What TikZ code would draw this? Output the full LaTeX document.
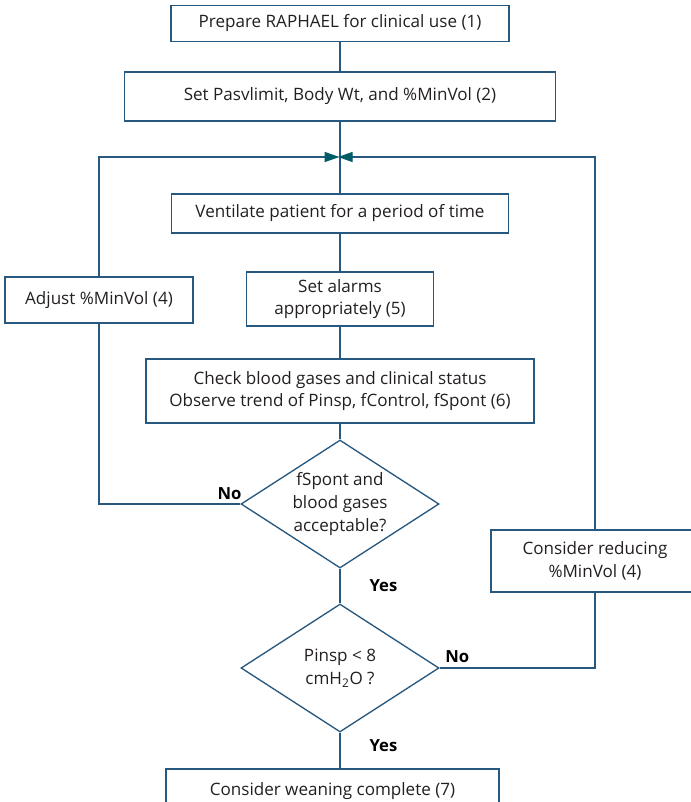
\documentclass[tikz,border=0pt]{standalone}
\usepackage{fontspec}
\setmainfont{Open Sans}
\usetikzlibrary{shapes.geometric,arrows.meta}
\definecolor{flowline}{RGB}{38,88,128}
\definecolor{flowtip}{RGB}{0,92,102}
\definecolor{flowtext}{RGB}{35,31,32}

\begin{document}
\begin{tikzpicture}[x=0.75pt,y=-0.75pt,
    box/.style={draw=flowline, line width=1pt, align=center, inner sep=0pt,
        text=flowtext, font=\fontsize{12.8}{17}\selectfont},
    test/.style={box, shape=diamond, shape aspect=1.55,
        minimum width=148.5pt, minimum height=96pt},
    link/.style={draw=flowline, line width=1pt},
    back/.style={link, -{Triangle[length=11pt,width=7.5pt,fill=flowtip,color=flowtip]}},
    answer/.style={text=black, font=\bfseries\fontsize{12.5}{14}\selectfont, inner sep=0pt}]
    \useasboundingbox (0,0) rectangle (690,802);

    % main column
    \node[box, minimum width=253.5pt, minimum height=27pt] (prep) at (340,23.5)
        {Prepare RAPHAEL for clinical use (1)};
    \node[box, minimum width=323.25pt, minimum height=36.75pt] (limits) at (340,96.5)
        {Set Pasvlimit, Body Wt, and \%MinVol (2)};
    \coordinate (merge) at (340,157);
    \node[box, minimum width=252.75pt, minimum height=29.25pt] (vent) at (340,213.5)
        {Ventilate patient for a period of time};
    \node[box, minimum width=140.25pt, minimum height=40.5pt] (alarms) at (340,299)
        {Set alarms\\appropriately (5)};
    \node[box, minimum width=291pt, minimum height=48pt] (check) at (340,391)
        {Check blood gases and clinical status\\Observe trend of Pinsp, fControl, fSpont (6)};
    \node[test] (gases) at (340,504) {fSpont and\\blood gases\\acceptable?};
    \node[test] (pinsp) at (340,668) {Pinsp < 8\\cmH\textsubscript{2}O ?};
    \node[box, minimum width=249.75pt, minimum height=33pt] (done) at (332.5,791)
        {Consider weaning complete (7)};

    % side boxes
    \node[box, minimum width=141pt, minimum height=34.5pt] (adjust) at (99,300)
        {Adjust \%MinVol (4)};
    \node[box, minimum width=156pt, minimum height=46.5pt] (reduce) at (595,561)
        {Consider reducing\\\%MinVol (4)};

    \draw[link] (prep) -- (limits);
    \draw[link] (limits) -- (vent);
    \draw[link] (vent) -- (alarms);
    \draw[link] (alarms) -- (check);
    \draw[link] (check) -- (gases);
    \draw[link] (gases) -- (pinsp);
    \draw[link] (pinsp.south) -- (pinsp.south |- done.north);

    % loops back to ventilation
    \draw[link] (gases.west) -| (adjust.south);
    \draw[back, shorten >=0.5pt] (adjust.north) |- (merge);
    \draw[link] (pinsp.east) -| (reduce.south);
    \draw[back, shorten >=-1.5pt] (reduce.north) |- (merge);

    \node[answer, anchor=south east] (no1) at ([xshift=1pt,yshift=3pt]gases.west) {No};
    \node[answer, anchor=west] (yes1) at ([xshift=22pt,yshift=-13pt]gases.south) {Yes};
    \node[answer, anchor=south west] (no2) at ([xshift=4pt,yshift=4pt]pinsp.east) {No};
    \node[answer, anchor=west] (yes2) at ([xshift=22pt,yshift=-10pt]pinsp.south) {Yes};
\end{tikzpicture}
\end{document}
